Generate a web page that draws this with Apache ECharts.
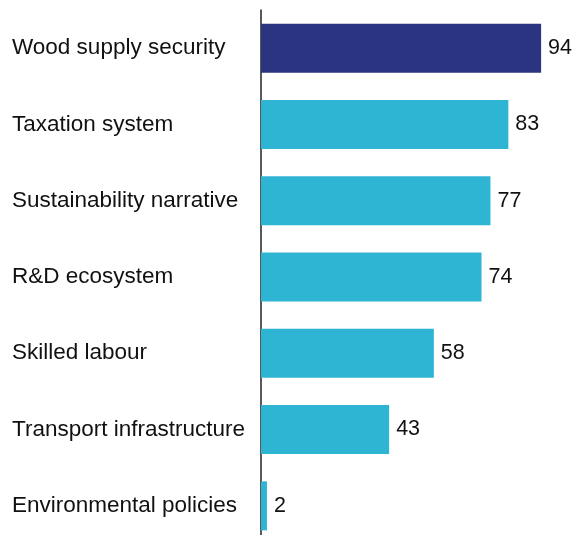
<!DOCTYPE html>
<html>
<head>
<meta charset="utf-8">
<script src="https://cdn.jsdelivr.net/npm/echarts@6/dist/echarts.min.js"></script>
<style>
html, body { margin: 0; padding: 0; background: #fff; }
#chart { width: 582px; height: 535px; }
</style>
</head>
<body>
<div id="chart"></div>
<script>
var categories = ['Wood supply security', 'Taxation system', 'Sustainability narrative',
    'R&D ecosystem', 'Skilled labour', 'Transport infrastructure', 'Environmental policies'];
var values = [94, 83, 77, 74, 58, 43, 2];
var highlightIndex = 0;

var myChart = echarts.init(document.getElementById('chart'));
var option = {
    animation: false,
    grid: { left: 261, top: 10, width: 298, height: 534, outerBoundsMode: 'none', containLabel: false },
    xAxis: {
        type: 'value', min: 0, max: 100,
        show: false
    },
    yAxis: {
        type: 'category',
        inverse: true,
        data: categories,
        axisLine: { show: true, lineStyle: { color: '#222', width: 1.5 } },
        axisTick: { show: false },
        axisLabel: {
            align: 'left', margin: 249, padding: [4, 0, 0, 0],
            color: '#111', fontSize: 22.5, fontFamily: 'Liberation Sans, Arial, sans-serif'
        }
    },
    series: [{
        type: 'bar',
        barWidth: 49,
        data: values.map(function (v, i) {
            return { value: v, itemStyle: { color: i === highlightIndex ? '#2b3480' : '#2fb5d4' } };
        }),
        label: {
            show: true, position: 'right', distance: 7, padding: [4, 0, 0, 0],
            color: '#111', fontSize: 21.5, fontFamily: 'Liberation Sans, Arial, sans-serif'
        }
    }]
};
myChart.setOption(option);
</script>
</body>
</html>
